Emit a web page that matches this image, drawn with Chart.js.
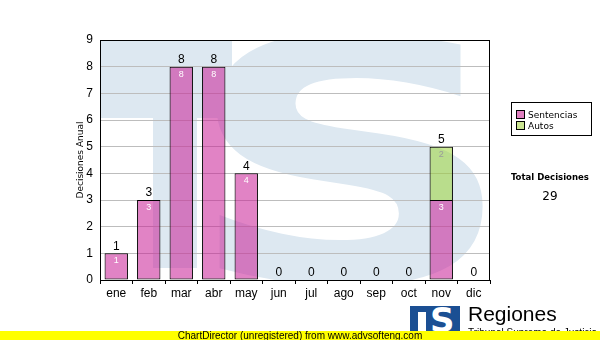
<!DOCTYPE html>
<html>
<head>
<meta charset="utf-8">
<script src="https://cdn.jsdelivr.net/npm/chart.js@4"></script>
<style>
  body { margin: 0; background: #fff; }
  #wrap { position: relative; width: 600px; height: 340px; overflow: hidden; font-family: "DejaVu Sans", sans-serif; }
  #c { position: absolute; left: 0; top: 0; }
  .legend { position: absolute; left: 511px; top: 102px; width: 79px; height: 32px; border: 1px solid #000; background: #fff; font-size: 9px; }
  .legend div { position: absolute; left: 4px; height: 11px; line-height: 11px; white-space: nowrap; }
  .legend span { display: inline-block; width: 7px; height: 7px; border: 1px solid #000; margin-right: 3px; vertical-align: -1px; }
  .total { position: absolute; left: 500px; width: 100px; text-align: center; }
  .logo { position: absolute; left: 410px; top: 306px; width: 50px; height: 30px; background: #1b4f93; overflow: hidden; }
  .logo b { position: absolute; left: 20px; top: -6px; color: #fff; font: bold 34px "DejaVu Sans", sans-serif; }
  .logo i { position: absolute; left: 8px; top: 6px; width: 8px; height: 24px; background: #fff; }
  .reg { position: absolute; left: 468px; top: 302px; font: 21px "Liberation Sans", Arial, sans-serif; color: #000; }
  .sub { position: absolute; left: 468px; top: 327px; font: 10px "Liberation Sans", Arial, sans-serif; color: #000; white-space: nowrap; }
  .footer { position: absolute; left: 0; top: 331px; width: 600px; height: 9px; background: #ffff00; font: 10px "Liberation Sans", Arial, sans-serif; line-height: 9px; text-align: center; color: #000; }
</style>
</head>
<body>
<div id="wrap">
  <canvas id="c" width="600" height="340"></canvas>
  <div class="legend">
    <div style="top:7px"><span style="background:#e07fc0"></span>Sentencias</div>
    <div style="top:18px"><span style="background:#cbe591"></span>Autos</div>
  </div>
  <div class="total" style="top:171px; font-weight:bold; font-size:9.5px; font-family:'DejaVu Sans Condensed', sans-serif;">Total Decisiones</div>
  <div class="total" style="top:189px; font-size:12px;" id="total"></div>
  <div class="logo"><i></i><b>S</b></div>
  <div class="reg">Regiones</div>
  <div class="sub">Tribunal Supremo de Justicia</div>
  <div class="footer">ChartDirector (unregistered) from www.advsofteng.com</div>
</div>
<script>
// datos
var months = ["ene", "feb", "mar", "abr", "may", "jun", "jul", "ago", "sep", "oct", "nov", "dic"];
var sentencias = [1, 3, 8, 8, 4, 0, 0, 0, 0, 0, 3, 0];
var autos = [0, 0, 0, 0, 0, 0, 0, 0, 0, 0, 2, 0];
var yMax = 9;

var total = 0;
for (var i = 0; i < months.length; i++) total += sentencias[i] + autos[i];
document.getElementById('total').textContent = total;

// marca de agua "TS" detras de la rejilla
var watermark = {
  id: 'watermark',
  beforeDraw: function(chart) {
    var ctx = chart.ctx, a = chart.chartArea;
    ctx.save();
    ctx.beginPath();
    ctx.rect(a.left, a.top, a.right - a.left, a.bottom - a.top);
    ctx.clip();
    ctx.fillStyle = '#dde8f1';
    ctx.fillRect(a.left, a.top, 132, 78);
    ctx.fillRect(a.left + 53, a.top + 78, 44, 150);
    ctx.translate(350, 281);
    ctx.scale(1.38, 1);
    ctx.font = 'bold 335px "DejaVu Sans"';
    ctx.textAlign = 'center';
    ctx.textBaseline = 'alphabetic';
    ctx.fillText('S', 0, 0);
    ctx.restore();
  }
};

// etiquetas de valores y marco
var labels = {
  id: 'labels',
  afterDatasetsDraw: function(chart) {
    var ctx = chart.ctx;
    ctx.save();
    ctx.textAlign = 'center';
    chart.data.datasets.forEach(function(ds, i) {
      var meta = chart.getDatasetMeta(i);
      meta.data.forEach(function(bar, j) {
        if (ds.data[j] > 0) {
          ctx.fillStyle = i === 0 ? '#ffffff' : '#9a9a9a';
          ctx.font = '9px Arial';
          ctx.textBaseline = 'top';
          ctx.fillText(ds.data[j], bar.x, bar.y + 3);
        }
      });
    });
    var meta0 = chart.getDatasetMeta(0);
    ctx.fillStyle = '#000';
    ctx.font = '12px Arial';
    ctx.textBaseline = 'bottom';
    months.forEach(function(m, j) {
      var t = sentencias[j] + autos[j];
      var y = chart.scales.y.getPixelForValue(t);
      ctx.fillText(t, meta0.data[j].x, y - 1);
    });
    ctx.restore();
  },
  afterDraw: function(chart) {
    var ctx = chart.ctx, a = chart.chartArea;
    ctx.save();
    ctx.strokeStyle = '#000';
    ctx.lineWidth = 1;
    ctx.strokeRect(a.left + 0.5, a.top + 0.5, a.right - a.left - 1, a.bottom - a.top);
    ctx.restore();
  }
};

function bw(c) { return c.raw > 0 ? 1 : 0; }

var chart = new Chart(document.getElementById('c'), {
  type: 'bar',
  data: {
    labels: months,
    datasets: [
      { label: 'Sentencias', data: sentencias, backgroundColor: 'rgba(200,30,150,0.55)', borderColor: '#000', borderWidth: bw, borderSkipped: false },
      { label: 'Autos', data: autos, backgroundColor: 'rgba(150,210,40,0.5)', borderColor: '#000', borderWidth: bw, borderSkipped: 'bottom' }
    ]
  },
  options: {
    responsive: false,
    devicePixelRatio: 1,
    animation: false,
    layout: { padding: { left: 70, right: 110, top: 40, bottom: 40 } },
    datasets: { bar: { categoryPercentage: 1, barPercentage: 0.72 } },
    plugins: { legend: { display: false }, tooltip: { enabled: false } },
    scales: {
      x: {
        stacked: true,
        afterFit: function(s) { s.height = 20; },
        grid: { drawOnChartArea: false, color: '#000', tickLength: 4 },
        border: { color: '#000' },
        ticks: { color: '#000', font: { family: 'Arial', size: 12 }, padding: 2, maxRotation: 0 }
      },
      y: {
        stacked: true,
        min: 0,
        max: yMax,
        afterFit: function(s) { s.width = 30; },
        grid: { color: '#bdbdbd', drawTicks: false },
        border: { color: '#000' },
        ticks: { stepSize: 1, color: '#000', font: { family: 'Arial', size: 12 }, padding: 7 },
        title: { display: true, text: 'Decisiones Anual', color: '#000', font: { family: 'DejaVu Sans', size: 9 }, padding: { top: 5, bottom: 0 } }
      }
    }
  },
  plugins: [watermark, labels]
});
</script>
</body>
</html>
